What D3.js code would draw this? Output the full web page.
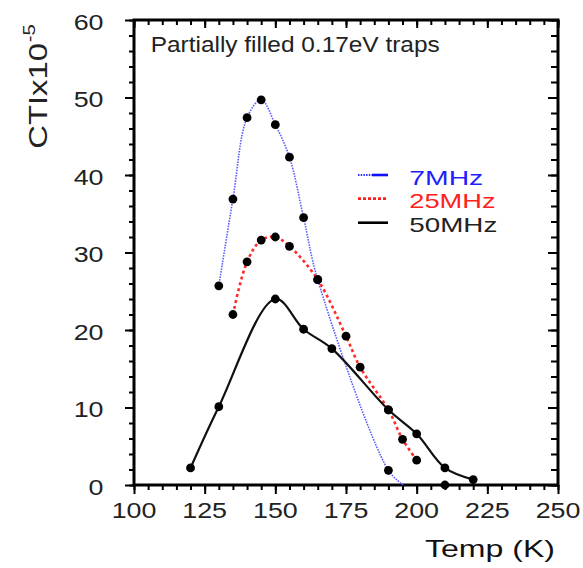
<!DOCTYPE html>
<html>
<head>
<meta charset="utf-8">
<script src="https://cdn.jsdelivr.net/npm/d3@7"></script>
<style>
  html, body { margin: 0; padding: 0; background: #fff; }
  svg { display: block; font-family: Arial, "Liberation Sans", Helvetica, sans-serif; }
</style>
</head>
<body>
<svg id="chart" width="583" height="568"></svg>
<script>
// ---- data ----
const xTicks = [100, 125, 150, 175, 200, 225, 250];
const yTicks = [0, 10, 20, 30, 40, 50, 60];
const seriesNames = ["7MHz", "25MHz", "50MHz"];

const t7  = [130, 135, 140, 145, 150, 155, 160, 165, 190, 210];
const v7  = [25.7, 36.9, 47.4, 49.7, 46.5, 42.3, 34.5, 26.5, 1.9, 0.0];
const fit7End = [195.3, 0.0];           // where the 7MHz fit reaches zero

const t25 = [135, 140, 145, 150, 155, 165, 175, 180, 190, 195, 200];
const v25 = [22.0, 28.8, 31.6, 32.0, 30.8, 26.5, 19.2, 15.2, 9.7, 5.9, 3.2];

const t50 = [120, 130, 150, 160, 170, 190, 200, 210, 220];
const v50 = [2.2, 10.1, 24.0, 20.1, 17.6, 9.7, 6.6, 2.2, 0.7];

const titleText = "Partially filled 0.17eV traps";
const xLabel = "Temp (K)";

// ---- layout ----
const svg = d3.select("#chart");
const L = 134, R = 558, T = 20, B = 485;
const x = d3.scaleLinear().domain([100, 250]).range([L, R]);
const y = d3.scaleLinear().domain([0, 60]).range([B, T]);

const minorX = d3.range(100, 251, 5);
const minorY = d3.range(0, 61, 2);

function ticksOnly(axis, g) {
  g.call(axis);
  g.select(".domain").remove();
  g.selectAll("line").attr("stroke", "#000").attr("stroke-width", 2);
}

// bottom (outward)
ticksOnly(d3.axisBottom(x).tickValues(minorX).tickSize(5).tickFormat(""),
  svg.append("g").attr("transform", `translate(0,${B})`));
ticksOnly(d3.axisBottom(x).tickValues(xTicks).tickSize(9).tickFormat(""),
  svg.append("g").attr("transform", `translate(0,${B})`));
// top (inward)
ticksOnly(d3.axisBottom(x).tickValues(minorX).tickSize(5).tickFormat(""),
  svg.append("g").attr("transform", `translate(0,${T})`));
ticksOnly(d3.axisBottom(x).tickValues(xTicks).tickSize(8).tickFormat(""),
  svg.append("g").attr("transform", `translate(0,${T})`));
// left (outward)
ticksOnly(d3.axisLeft(y).tickValues(minorY).tickSize(5).tickFormat(""),
  svg.append("g").attr("transform", `translate(${L},0)`));
ticksOnly(d3.axisLeft(y).tickValues(yTicks).tickSize(9).tickFormat(""),
  svg.append("g").attr("transform", `translate(${L},0)`));
// right (inward)
ticksOnly(d3.axisLeft(y).tickValues(minorY).tickSize(7).tickFormat(""),
  svg.append("g").attr("transform", `translate(${R},0)`));
ticksOnly(d3.axisLeft(y).tickValues(yTicks).tickSize(10).tickFormat(""),
  svg.append("g").attr("transform", `translate(${R},0)`));

// frame
svg.append("rect").attr("x", L).attr("y", T).attr("width", R - L).attr("height", B - T)
  .attr("fill", "none").attr("stroke", "#000").attr("stroke-width", 3);

// tick labels
const SX = 1.22;
svg.append("g").selectAll("g").data(xTicks).join("g")
  .attr("transform", d => `translate(${x(d)},518) scale(${SX},1)`)
  .append("text").attr("text-anchor", "middle").attr("font-size", 22).attr("fill", "#222")
  .text(d => d);
svg.append("g").selectAll("g").data(yTicks).join("g")
  .attr("transform", d => `translate(103.5,${y(d) + 9.5}) scale(${SX},1)`)
  .append("text").attr("text-anchor", "end").attr("font-size", 22).attr("fill", "#222")
  .text(d => d);

// title
svg.append("text").attr("x", 150.7).attr("y", 52.3).attr("font-size", 22).attr("fill", "#222")
  .attr("textLength", 289).attr("lengthAdjust", "spacingAndGlyphs").text(titleText);

// x axis title
svg.append("text").attr("x", 425).attr("y", 557.3).attr("font-size", 24).attr("fill", "#111")
  .attr("textLength", 130).attr("lengthAdjust", "spacingAndGlyphs").text(xLabel);

// y axis title
const yl = svg.append("g").attr("transform", "translate(46.5,148.7) rotate(-90)");
yl.append("text").attr("x", 0).attr("y", 0).attr("font-size", 26).attr("fill", "#222")
  .attr("textLength", 105.7).attr("lengthAdjust", "spacingAndGlyphs").text("CTIx10");
yl.append("text").attr("x", 106.5).attr("y", -11.5).attr("font-size", 16).attr("fill", "#222")
  .attr("textLength", 18).attr("lengthAdjust", "spacingAndGlyphs").text("-5");

// ---- curves ----
const line = d3.line().x(d => x(d[0])).y(d => y(d[1])).curve(d3.curveCatmullRom.alpha(0.5));

const pts7 = t7.map((t, i) => [t, v7[i]]);
const pts25 = t25.map((t, i) => [t, v25[i]]);
const pts50 = t50.map((t, i) => [t, v50[i]]);
const line7 = pts7.filter(d => d[0] <= 190).concat([fit7End]);

svg.append("path").attr("d", line(line7)).attr("fill", "none")
  .attr("stroke", "#5a5aff").attr("stroke-width", 1.6).attr("stroke-dasharray", "1.5,1.2");
svg.append("path").attr("d", line(pts25)).attr("fill", "none")
  .attr("stroke", "#ff2a2a").attr("stroke-width", 2.6).attr("stroke-dasharray", "3,3");
svg.append("path").attr("d", line(pts50)).attr("fill", "none")
  .attr("stroke", "#111").attr("stroke-width", 2.2);

// ---- dots ----
const allPts = pts7.concat(pts25, pts50);
svg.append("g").selectAll("circle").data(allPts).join("circle")
  .attr("cx", d => x(d[0])).attr("cy", d => y(d[1])).attr("r", 4.4).attr("fill", "#000");

// ---- legend ----
const legColors = ["#1f1fff", "#ff2020", "#222"];
const legY = [175, 198.7, 222.7];
const legBase = [185, 208.3, 231.7];
const legW = [74, 86.3, 88];
const lg = svg.append("g");
// 7MHz sample: dotted then solid
lg.append("line").attr("x1", 358).attr("x2", 372).attr("y1", legY[0]).attr("y2", legY[0])
  .attr("stroke", "#3030ff").attr("stroke-width", 2).attr("stroke-dasharray", "1.5,1.2");
lg.append("line").attr("x1", 372).attr("x2", 388).attr("y1", legY[0]).attr("y2", legY[0])
  .attr("stroke", "#1010ff").attr("stroke-width", 2.6);
lg.append("line").attr("x1", 358).attr("x2", 388).attr("y1", legY[1]).attr("y2", legY[1])
  .attr("stroke", "#ff2020").attr("stroke-width", 2.8).attr("stroke-dasharray", "3,2");
lg.append("line").attr("x1", 358).attr("x2", 388).attr("y1", legY[2]).attr("y2", legY[2])
  .attr("stroke", "#000").attr("stroke-width", 2.6);
lg.selectAll("text").data(seriesNames).join("text")
  .attr("x", 409.3).attr("y", (d, i) => legBase[i]).attr("font-size", 21)
  .attr("fill", (d, i) => legColors[i])
  .attr("textLength", (d, i) => legW[i]).attr("lengthAdjust", "spacingAndGlyphs")
  .text(d => d);
</script>
</body>
</html>
